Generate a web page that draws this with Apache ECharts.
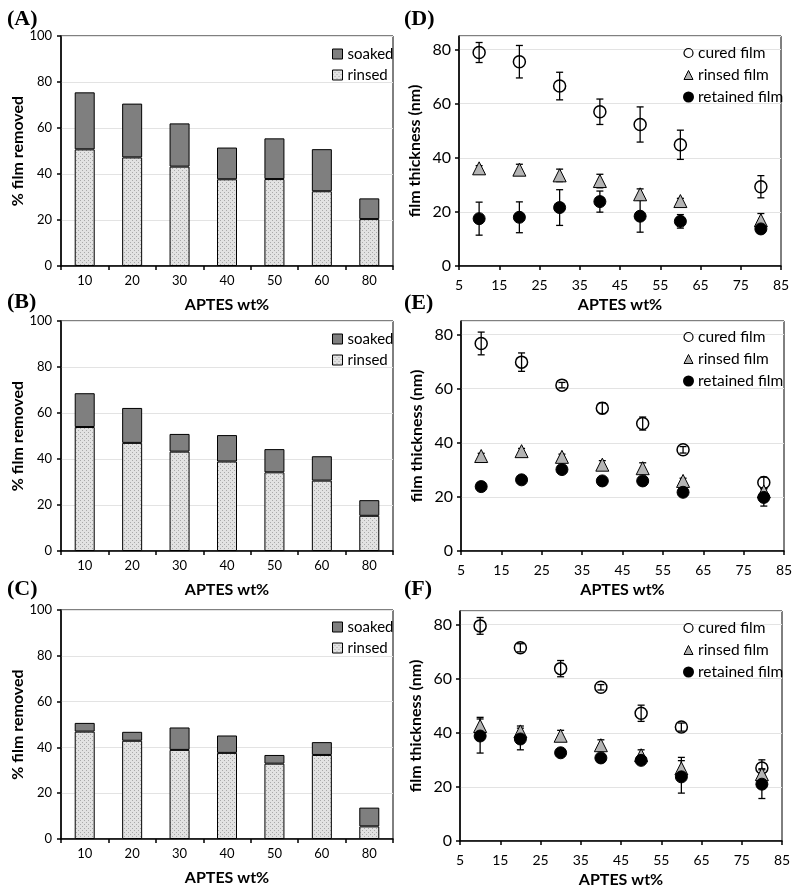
<!DOCTYPE html>
<html>
<head>
<meta charset="utf-8">
<script src="https://cdn.jsdelivr.net/npm/echarts@6/dist/echarts.min.js"></script>
<style>
  html, body { margin: 0; padding: 0; background: #ffffff; }
  #chart { width: 800px; height: 892px; }
</style>
</head>
<body>
<div id="chart"></div>
<script>
// bar panels (A-C): % film removed
const cats = ['10', '20', '30', '40', '50', '60', '80']
const rinsedA = [50.7, 47.2, 43.2, 37.7, 37.8, 32.5, 20.4]
const soakedA = [24.8, 23.4, 18.8, 13.8, 17.7, 18.3, 9.0]
const rinsedB = [53.9, 47.0, 43.2, 38.9, 34.2, 30.6, 15.3]
const soakedB = [14.7, 15.2, 7.7, 11.5, 10.1, 10.6, 6.8]
const rinsedC = [46.9, 42.9, 38.9, 37.6, 32.9, 36.7, 5.5]
const soakedC = [3.8, 3.9, 9.8, 7.6, 3.8, 5.6, 8.2]

// scatter panels (D-F): film thickness (nm), value and +/- error
const wt = [10, 20, 30, 40, 50, 60, 80]
const curedD = [78.9, 75.5, 66.5, 57.0, 52.3, 44.8, 29.3]
const curedErrD = [3.7, 6.0, 5.1, 4.7, 6.5, 5.4, 4.1]
const rinsedD = [36.1, 35.6, 33.5, 31.4, 26.5, 24.0, 16.9]
const rinsedErrD = [1.0, 2.0, 2.3, 2.5, 2.0, 1.0, 2.5]
const retainedD = [17.5, 18.0, 21.6, 23.8, 18.4, 16.5, 13.7]
const retainedErrD = [6.1, 5.7, 6.6, 3.9, 5.9, 2.5, 1.0]

const curedE = [76.7, 69.8, 61.3, 52.8, 47.1, 37.4, 25.3]
const curedErrE = [4.2, 3.4, 1.0, 2.0, 2.4, 1.2, 2.0]
const rinsedE = [35.1, 36.9, 34.8, 31.9, 30.6, 25.9, 22.0]
const rinsedErrE = [1.0, 1.0, 1.0, 1.5, 2.0, 1.0, 1.0]
const retainedE = [23.8, 26.3, 30.1, 25.9, 25.9, 21.7, 19.8]
const retainedErrE = [1.5, 1.5, 1.0, 1.0, 1.0, 1.5, 3.2]

const curedF = [79.5, 71.4, 63.7, 56.8, 47.2, 42.1, 27.0]
const curedErrF = [3.1, 1.5, 3.0, 1.0, 3.0, 1.5, 3.0]
const rinsedF = [42.5, 40.5, 38.9, 35.4, 31.7, 26.8, 24.7]
const rinsedErrF = [3.2, 2.0, 2.0, 2.0, 2.0, 4.1, 2.0]
const retainedF = [38.8, 37.7, 32.6, 30.7, 29.8, 23.7, 21.0]
const retainedErrF = [6.3, 4.0, 1.0, 1.0, 1.0, 6.0, 5.3]

const panelLabels = ['(A)', '(B)', '(C)', '(D)', '(E)', '(F)']

const FONT = 'Lato'
const SOAKED = '#7f7f7f'

// speckled light fill for the rinsed bars
function makeDots () {
  let c = document.createElement('canvas')
  c.width = 4
  c.height = 4
  let ctx = c.getContext('2d')
  ctx.fillStyle = '#e2e2e2'
  ctx.fillRect(0, 0, 4, 4)
  ctx.fillStyle = '#a9a9a9'
  ctx.fillRect(0, 0, 1, 1)
  ctx.fillRect(2, 2, 1, 1)
  return { image: c, repeat: 'repeat' }
}
const RINSED_BAR = makeDots()

let option = {
  backgroundColor: '#ffffff',
  animation: false,
  graphic: [],
  legend: [],
  grid: [
    { left: 61, top: 36, width: 332, height: 230 },
    { left: 61, top: 321, width: 332, height: 230 },
    { left: 61, top: 610, width: 332, height: 229 },
    { left: 459, top: 36, width: 322, height: 230 },
    { left: 461, top: 321, width: 323, height: 230 },
    { left: 460, top: 611, width: 322, height: 230 }
  ],
  xAxis: [],
  yAxis: [],
  series: []
}
option.grid.forEach(function (g) {
  g.show = true
  g.borderColor = '#000'
  g.borderWidth = 1
  g.backgroundColor = 'transparent'
})

// panel letters
const labelPos = [[7, 8], [7, 291], [7, 578], [404, 8], [404, 292], [404, 578]]
for (let i = 0; i < 6; i++) {
  option.graphic.push({
    type: 'text',
    x: labelPos[i][0],
    y: labelPos[i][1],
    style: {
      text: panelLabels[i],
      font: 'bold 22px "Liberation Serif"',
      fill: '#000',
      verticalAlign: 'top'
    }
  })
}

function barPanel (idx, rinsed, soaked, legendTop) {
  option.xAxis.push({
    type: 'category',
    gridIndex: idx,
    data: cats,
    name: 'APTES wt%',
    nameLocation: 'middle',
    nameGap: 31,
    nameTextStyle: { fontFamily: FONT, fontWeight: 'bold', fontSize: 16, color: '#000' },
    axisLine: { lineStyle: { color: '#000', width: 1.5 } },
    axisTick: { show: true, length: 4, lineStyle: { color: '#000', width: 1.5 } },
    axisLabel: { fontFamily: FONT, fontSize: 13, color: '#000', margin: 8 }
  })
  option.yAxis.push({
    type: 'value',
    gridIndex: idx,
    min: 0,
    max: 100,
    interval: 20,
    name: '% film removed',
    nameLocation: 'middle',
    nameGap: 34,
    nameTextStyle: { fontFamily: FONT, fontWeight: 'bold', fontSize: 16, color: '#000' },
    axisLine: { show: true, lineStyle: { color: '#000', width: 1.5 } },
    axisTick: { show: true, length: 4, lineStyle: { color: '#000', width: 1.5 } },
    axisLabel: { fontFamily: FONT, fontSize: 13, color: '#000', margin: 9 },
    splitLine: { lineStyle: { color: '#e3e3e3' } }
  })
  option.series.push({
    name: 'rinsed',
    type: 'bar',
    stack: 'p' + idx,
    xAxisIndex: idx,
    yAxisIndex: idx,
    barWidth: 20,
    data: rinsed,
    itemStyle: { color: RINSED_BAR, borderColor: '#000', borderWidth: 1 }
  })
  option.series.push({
    name: 'soaked',
    type: 'bar',
    stack: 'p' + idx,
    xAxisIndex: idx,
    yAxisIndex: idx,
    barWidth: 20,
    data: soaked,
    itemStyle: { color: SOAKED, borderColor: '#000', borderWidth: 1 }
  })
  option.legend.push({
    orient: 'vertical',
    left: 327,
    top: legendTop,
    itemWidth: 10,
    itemHeight: 10,
    itemGap: 5,
    textStyle: { fontFamily: FONT, fontSize: 15, color: '#000', lineHeight: 16 },
    data: [
      { name: 'soaked', icon: 'rect', itemStyle: { color: SOAKED, borderColor: '#000', borderWidth: 1 } },
      { name: 'rinsed', icon: 'rect', itemStyle: { color: RINSED_BAR, borderColor: '#000', borderWidth: 1 } }
    ]
  })
}

// vertical error bar with caps
function renderErr (params, api) {
  let top = api.coord([api.value(0), api.value(2)])
  let bot = api.coord([api.value(0), api.value(1)])
  let w = 3.5
  let style = { stroke: '#000', lineWidth: 1.3 }
  return {
    type: 'group',
    children: [
      { type: 'line', shape: { x1: top[0], y1: top[1], x2: bot[0], y2: bot[1] }, style: style },
      { type: 'line', shape: { x1: top[0] - w, y1: top[1], x2: top[0] + w, y2: top[1] }, style: style },
      { type: 'line', shape: { x1: bot[0] - w, y1: bot[1], x2: bot[0] + w, y2: bot[1] }, style: style }
    ]
  }
}

function errData (vals, errs) {
  return wt.map(function (x, i) { return [x, vals[i] - errs[i], vals[i] + errs[i]] })
}
function pts (vals) {
  return wt.map(function (x, i) { return [x, vals[i]] })
}

const markers = {
  'cured film': { symbol: 'circle', symbolSize: 12, itemStyle: { color: 'transparent', borderColor: '#000', borderWidth: 1.5, opacity: 1 } },
  'rinsed film': { symbol: 'triangle', symbolSize: 13, itemStyle: { color: '#b4b4b4', borderColor: '#000', borderWidth: 1, opacity: 1 } },
  'retained film': { symbol: 'circle', symbolSize: 12, itemStyle: { color: '#000', borderColor: '#000', borderWidth: 1, opacity: 1 } }
}

function scatterPanel (idx, sets, legendTop) {
  option.xAxis.push({
    type: 'value',
    gridIndex: idx,
    min: 5,
    max: 85,
    interval: 10,
    name: 'APTES wt%',
    nameLocation: 'middle',
    nameGap: 31,
    nameTextStyle: { fontFamily: FONT, fontWeight: 'bold', fontSize: 16, color: '#000' },
    axisLine: { lineStyle: { color: '#000', width: 1.5 } },
    axisTick: { show: true, length: 4, lineStyle: { color: '#000', width: 1.5 } },
    axisLabel: { fontFamily: FONT, fontSize: 14, color: '#000', margin: 12 },
    splitLine: { show: false }
  })
  option.yAxis.push({
    type: 'value',
    gridIndex: idx,
    min: 0,
    max: 85,
    interval: 20,
    name: 'film thickness (nm)',
    nameLocation: 'middle',
    nameGap: 36,
    nameTextStyle: { fontFamily: FONT, fontWeight: 'bold', fontSize: 16, color: '#000' },
    axisLine: { show: true, lineStyle: { color: '#000', width: 1.5 } },
    axisTick: { show: true, length: 4, lineStyle: { color: '#000', width: 1.5 } },
    axisLabel: { fontFamily: FONT, fontSize: 16, color: '#000', margin: 8, showMaxLabel: false },
    splitLine: { lineStyle: { color: '#e3e3e3' } }
  })
  sets.forEach(function (s) {
    option.series.push({
      type: 'custom',
      xAxisIndex: idx,
      yAxisIndex: idx,
      renderItem: renderErr,
      encode: { x: 0, y: [1, 2] },
      data: errData(s.vals, s.errs),
      silent: true,
      z: 1
    })
  })
  sets.forEach(function (s) {
    let m = markers[s.name]
    option.series.push({
      name: s.name,
      type: 'scatter',
      xAxisIndex: idx,
      yAxisIndex: idx,
      symbol: m.symbol,
      symbolSize: m.symbolSize,
      itemStyle: m.itemStyle,
      data: pts(s.vals),
      z: 3
    })
  })
  option.legend.push({
    orient: 'vertical',
    left: 678,
    top: legendTop,
    itemWidth: 9,
    itemHeight: 9,
    itemGap: 6,
    textStyle: { fontFamily: FONT, fontSize: 15.5, color: '#000', lineHeight: 16 },
    data: [
      { name: 'cured film', icon: 'circle', itemStyle: { color: 'transparent', borderColor: '#000', borderWidth: 1.2, opacity: 1 } },
      { name: 'rinsed film', icon: 'triangle', itemStyle: { color: '#b4b4b4', borderColor: '#000', borderWidth: 1, opacity: 1 } },
      { name: 'retained film', icon: 'circle', itemStyle: { color: '#000', opacity: 1 } }
    ]
  })
}

barPanel(0, rinsedA, soakedA, 41)
barPanel(1, rinsedB, soakedB, 326)
barPanel(2, rinsedC, soakedC, 614)

scatterPanel(3, [
  { name: 'cured film', vals: curedD, errs: curedErrD },
  { name: 'rinsed film', vals: rinsedD, errs: rinsedErrD },
  { name: 'retained film', vals: retainedD, errs: retainedErrD }
], 40)
scatterPanel(4, [
  { name: 'cured film', vals: curedE, errs: curedErrE },
  { name: 'rinsed film', vals: rinsedE, errs: rinsedErrE },
  { name: 'retained film', vals: retainedE, errs: retainedErrE }
], 324)
scatterPanel(5, [
  { name: 'cured film', vals: curedF, errs: curedErrF },
  { name: 'rinsed film', vals: rinsedF, errs: rinsedErrF },
  { name: 'retained film', vals: retainedF, errs: retainedErrF }
], 615)

let myChart = echarts.init(document.getElementById('chart'), null, { renderer: 'canvas' })
myChart.setOption(option)
</script>
</body>
</html>
